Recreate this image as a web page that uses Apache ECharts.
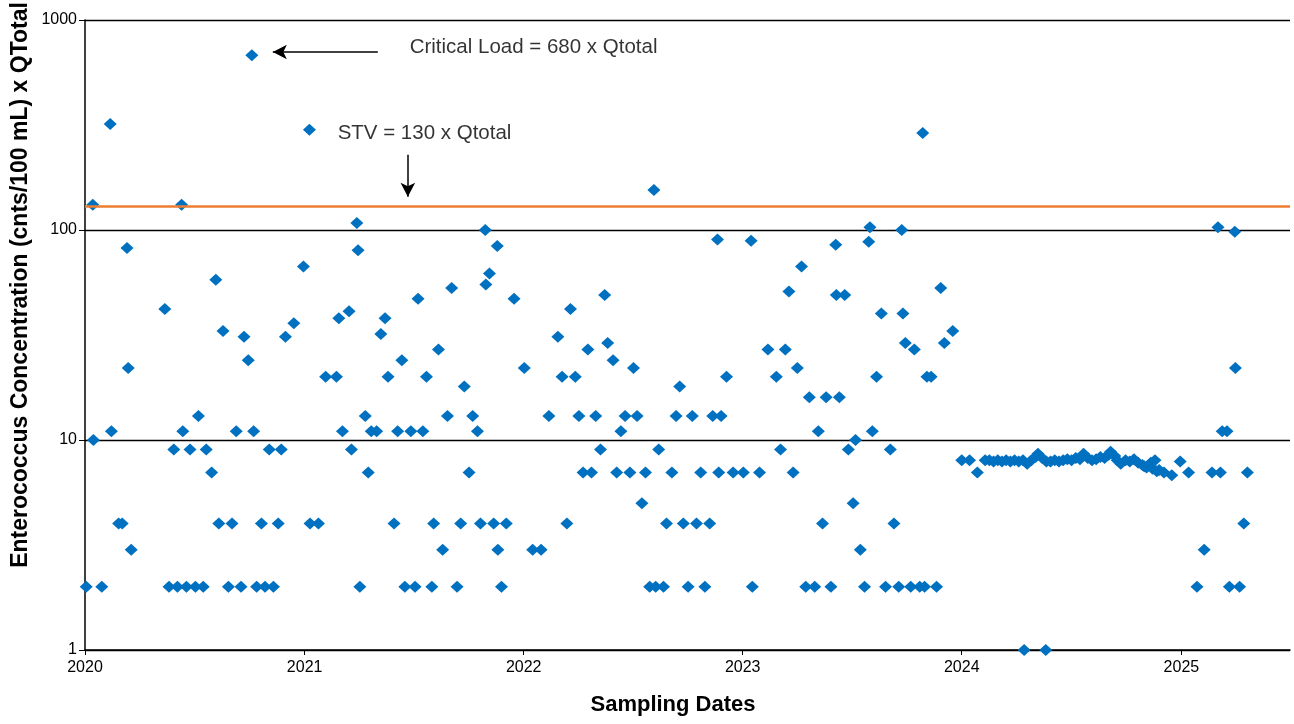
<!DOCTYPE html>
<html>
<head>
<meta charset="utf-8">
<script src="https://cdn.jsdelivr.net/npm/echarts@6/dist/echarts.min.js"></script>
<style>
  html, body { margin: 0; padding: 0; background: #fff; }
  #chart { width: 1294px; height: 724px; }
</style>
</head>
<body>
<div id="chart"></div>
<script>
// Enterococcus concentration x Qtotal, one entry per sampling date
const sampleDates = [
  // 2020
  '2020-01-03','2020-01-14','2020-01-15','2020-01-29','2020-02-12','2020-02-14','2020-02-26','2020-03-03',
  '2020-03-11','2020-03-13','2020-03-18','2020-05-13','2020-05-20','2020-05-28','2020-06-03','2020-06-10',
  '2020-06-12','2020-06-18','2020-06-24','2020-07-03','2020-07-08','2020-07-16','2020-07-21','2020-07-30',
  '2020-08-06','2020-08-11','2020-08-18','2020-08-27','2020-09-02','2020-09-09','2020-09-17','2020-09-22',
  '2020-09-29','2020-10-05','2020-10-08','2020-10-13','2020-10-21','2020-10-27','2020-11-03','2020-11-10',
  '2020-11-18','2020-11-23','2020-11-30','2020-12-14','2020-12-30',
  // 2021
  '2021-01-09','2021-01-10','2021-01-24','2021-02-05','2021-02-23','2021-02-27','2021-03-05','2021-03-16',
  '2021-03-20','2021-03-29','2021-03-31','2021-04-03','2021-04-12','2021-04-17','2021-04-22','2021-05-01',
  '2021-05-08','2021-05-15','2021-05-20','2021-05-30','2021-06-05','2021-06-12','2021-06-17','2021-06-27',
  '2021-07-04','2021-07-09','2021-07-17','2021-07-23','2021-08-01','2021-08-04','2021-08-12','2021-08-19',
  '2021-08-27','2021-09-03','2021-09-12','2021-09-18','2021-09-24','2021-10-02','2021-10-08','2021-10-16',
  '2021-10-21','2021-10-29','2021-10-30','2021-11-05','2021-11-12','2021-11-18','2021-11-19','2021-11-25',
  '2021-12-03','2021-12-16',
  // 2022
  '2022-01-02','2022-01-16','2022-01-30','2022-02-12','2022-02-27','2022-03-06','2022-03-14','2022-03-20',
  '2022-03-28','2022-04-03','2022-04-10','2022-04-18','2022-04-24','2022-05-01','2022-05-09','2022-05-16',
  '2022-05-21','2022-05-30','2022-06-05','2022-06-12','2022-06-19','2022-06-27','2022-07-03','2022-07-09',
  '2022-07-17','2022-07-23','2022-07-30','2022-08-06','2022-08-09','2022-08-14','2022-08-22','2022-08-27',
  '2022-09-05','2022-09-12','2022-09-18','2022-09-24','2022-10-02','2022-10-09','2022-10-16','2022-10-23',
  '2022-10-30','2022-11-07','2022-11-12','2022-11-20','2022-11-22','2022-11-26','2022-12-05','2022-12-16',
  // 2023
  '2023-01-02','2023-01-15','2023-01-17','2023-01-29','2023-02-12','2023-02-26','2023-03-05','2023-03-13',
  '2023-03-19','2023-03-26','2023-04-02','2023-04-09','2023-04-16','2023-04-22','2023-05-01','2023-05-07',
  '2023-05-14','2023-05-20','2023-05-28','2023-06-05','2023-06-06','2023-06-11','2023-06-20','2023-06-26',
  '2023-07-04','2023-07-08','2023-07-16','2023-07-23','2023-07-30','2023-08-01','2023-08-05','2023-08-12',
  '2023-08-20','2023-08-27','2023-09-04','2023-09-10','2023-09-18','2023-09-23','2023-09-25','2023-09-29',
  '2023-10-08','2023-10-14','2023-10-23','2023-10-28','2023-10-31','2023-11-04','2023-11-11','2023-11-20',
  '2023-11-27','2023-12-03','2023-12-17',
  // 2024
  '2024-01-01','2024-01-14','2024-01-27','2024-02-09','2024-02-16','2024-02-23','2024-03-01','2024-03-08',
  '2024-03-15','2024-03-22','2024-03-29','2024-04-05','2024-04-12','2024-04-14','2024-04-19','2024-04-26',
  '2024-05-03','2024-05-07','2024-05-14','2024-05-20','2024-05-21','2024-05-28','2024-06-04','2024-06-11',
  '2024-06-18','2024-06-25','2024-07-02','2024-07-09','2024-07-16','2024-07-22','2024-07-29','2024-08-05',
  '2024-08-12','2024-08-19','2024-08-26','2024-09-02','2024-09-05','2024-09-12','2024-09-16','2024-09-22',
  '2024-09-30','2024-10-07','2024-10-14','2024-10-21','2024-10-28','2024-10-31','2024-11-04','2024-11-11',
  '2024-11-14','2024-11-18','2024-11-21','2024-11-25','2024-12-03','2024-12-16','2024-12-30',
  // 2025
  '2025-01-13','2025-01-27','2025-02-08','2025-02-21','2025-03-03','2025-03-07','2025-03-10','2025-03-18',
  '2025-03-22','2025-03-31','2025-04-01','2025-04-08','2025-04-15','2025-04-21'
];

const concentrations = [
  // 2020
  2, 132, 10, 2, 320, 11, 4, 4,
  82, 22, 3, 42, 2, 9, 2, 132,
  11, 2, 9, 2, 13, 2, 9, 7,
  58, 4, 33, 2, 4, 11, 2, 31,
  24, 680, 11, 2, 4, 2, 9, 2,
  4, 9, 31, 36, 67,
  // 2021
  300, 4, 4, 20, 20, 38, 11, 41,
  9, 108, 80, 2, 13, 7, 11, 11,
  32, 38, 20, 4, 11, 24, 2, 11,
  2, 47, 11, 20, 2, 4, 27, 3,
  13, 53, 2, 4, 18, 7, 13, 11,
  4, 100, 55, 62, 4, 84, 3, 2,
  4, 47,
  // 2022
  22, 3, 3, 13, 31, 20, 4, 42,
  20, 13, 7, 27, 7, 13, 9, 49,
  29, 24, 7, 11, 13, 7, 22, 13,
  5, 7, 2, 155, 2, 9, 2, 4,
  7, 13, 18, 4, 2, 13, 4, 7,
  2, 4, 13, 90, 7, 13, 20, 7,
  // 2023
  7, 89, 2, 7, 27, 20, 9, 27,
  51, 7, 22, 67, 2, 16, 2, 11,
  4, 16, 2, 85, 49, 16, 49, 9,
  5, 10, 3, 2, 88, 103, 11, 20,
  40, 2, 9, 4, 2, 100, 40, 29,
  2, 27, 2, 290, 2, 20, 20, 2,
  53, 29, 33,
  // 2024
  8, 8, 7, 8, 8.0, 7.9, 8.0, 7.9,
  8.0, 7.9, 8.0, 7.9, 8.0, 1, 7.7, 8.0,
  8.3, 8.6, 8.2, 1, 7.9, 7.9, 8.0, 7.9,
  8.0, 8.1, 8.0, 8.2, 8.1, 8.6, 8.2, 8.0,
  8.1, 8.3, 8.2, 8.5, 8.8, 8.4, 8.0, 7.7,
  8.0, 7.9, 8.1, 7.8, 7.6, 7.5, 7.4, 7.8,
  7.3, 8.0, 7.1, 7.2, 7.0, 6.8, 7.9,
  // 2025
  7, 2, 3, 7, 103, 7, 11, 11,
  2, 98, 22, 2, 4, 7
];

// Reference levels
const stvLevel = 130;
const yTickValues = [1, 10, 100, 1000];
const xRange = ['2020-01-01', '2025-07-01'];

// Callout texts anchored in data space [date, value, text]
const calloutTexts = [
  ['2021-06-25', 743, 'Critical Load = 680 x Qtotal'],
  ['2021-02-25', 290, 'STV = 130 x Qtotal']
];
// Callout arrows [fromDate, fromValue, toDate, toValue]
const calloutArrows = [
  ['2021-05-03', 704, '2020-11-09', 704],
  ['2021-06-22', 228, '2021-06-22', 144]
];

const FONT = '"Liberation Sans", Arial, sans-serif';
const points = sampleDates.map((d, i) => [d, concentrations[i]]);

const chart = echarts.init(document.getElementById('chart'), null, { renderer: 'canvas' });

chart.setOption({
  animation: false,
  backgroundColor: '#ffffff',
  grid: { left: 85, right: 4, top: 20, bottom: 74, containLabel: false },
  xAxis: {
    type: 'time',
    min: xRange[0],
    max: xRange[1],
    splitNumber: 6,
    axisLine: { show: true, lineStyle: { color: '#000', width: 1.5 } },
    axisTick: { show: true, length: 5, lineStyle: { color: '#000', width: 1 } },
    splitLine: { show: false },
    axisLabel: {
      formatter: '{yyyy}',
      color: '#000',
      fontFamily: FONT,
      fontSize: 16,
      margin: 10,
      showMaxLabel: false,
      hideOverlap: false
    }
  },
  yAxis: {
    type: 'log',
    logBase: 10,
    min: yTickValues[0],
    max: yTickValues[yTickValues.length - 1],
    axisLine: { show: true, lineStyle: { color: '#000', width: 1.5 } },
    axisTick: { show: true, length: 6, lineStyle: { color: '#000', width: 1 } },
    splitLine: { show: true, lineStyle: { color: '#000', width: 1.3 } },
    axisLabel: {
      color: '#000',
      fontFamily: FONT,
      fontSize: 16,
      margin: 8,
      formatter: v => String(Math.round(v))
    }
  },
  graphic: [
    {
      type: 'text',
      x: 21, y: 285,
      rotation: Math.PI / 2,
      style: {
        text: 'Enterococcus Concentration (cnts/100 mL) x QTotal',
        font: 'bold 23px ' + FONT,
        fill: '#000',
        align: 'center',
        verticalAlign: 'middle'
      }
    },
    {
      type: 'text',
      x: 673, y: 705,
      style: {
        text: 'Sampling Dates',
        font: 'bold 22px ' + FONT,
        fill: '#000',
        align: 'center',
        verticalAlign: 'middle'
      }
    }
  ],
  series: [
    {
      name: 'Enterococcus',
      type: 'scatter',
      symbol: 'diamond',
      symbolSize: [13, 12],
      itemStyle: { color: '#0070C0', opacity: 1 },
      data: points,
      z: 3,
      markLine: {
        silent: true,
        symbol: ['none', 'none'],
        label: { show: false },
        lineStyle: { color: '#ED7D31', width: 2.5, type: 'solid', opacity: 1 },
        data: [{ yAxis: stvLevel }]
      }
    },
    {
      name: 'callouts',
      type: 'scatter',
      symbolSize: 0,
      silent: true,
      data: calloutTexts,
      label: {
        show: true,
        position: 'right',
        distance: 0,
        formatter: p => p.data[2],
        color: '#000',
        fontFamily: FONT,
        fontSize: 20.5
      },
      markLine: {
        silent: true,
        symbol: ['none', 'arrow'],
        symbolSize: [11, 14],
        label: { show: false },
        lineStyle: { color: '#000', width: 1.5, type: 'solid', opacity: 1 },
        data: calloutArrows.map(a => [
          { coord: [a[0], a[1]] },
          { coord: [a[2], a[3]] }
        ])
      },
      z: 4
    }
  ]
});
</script>
</body>
</html>
